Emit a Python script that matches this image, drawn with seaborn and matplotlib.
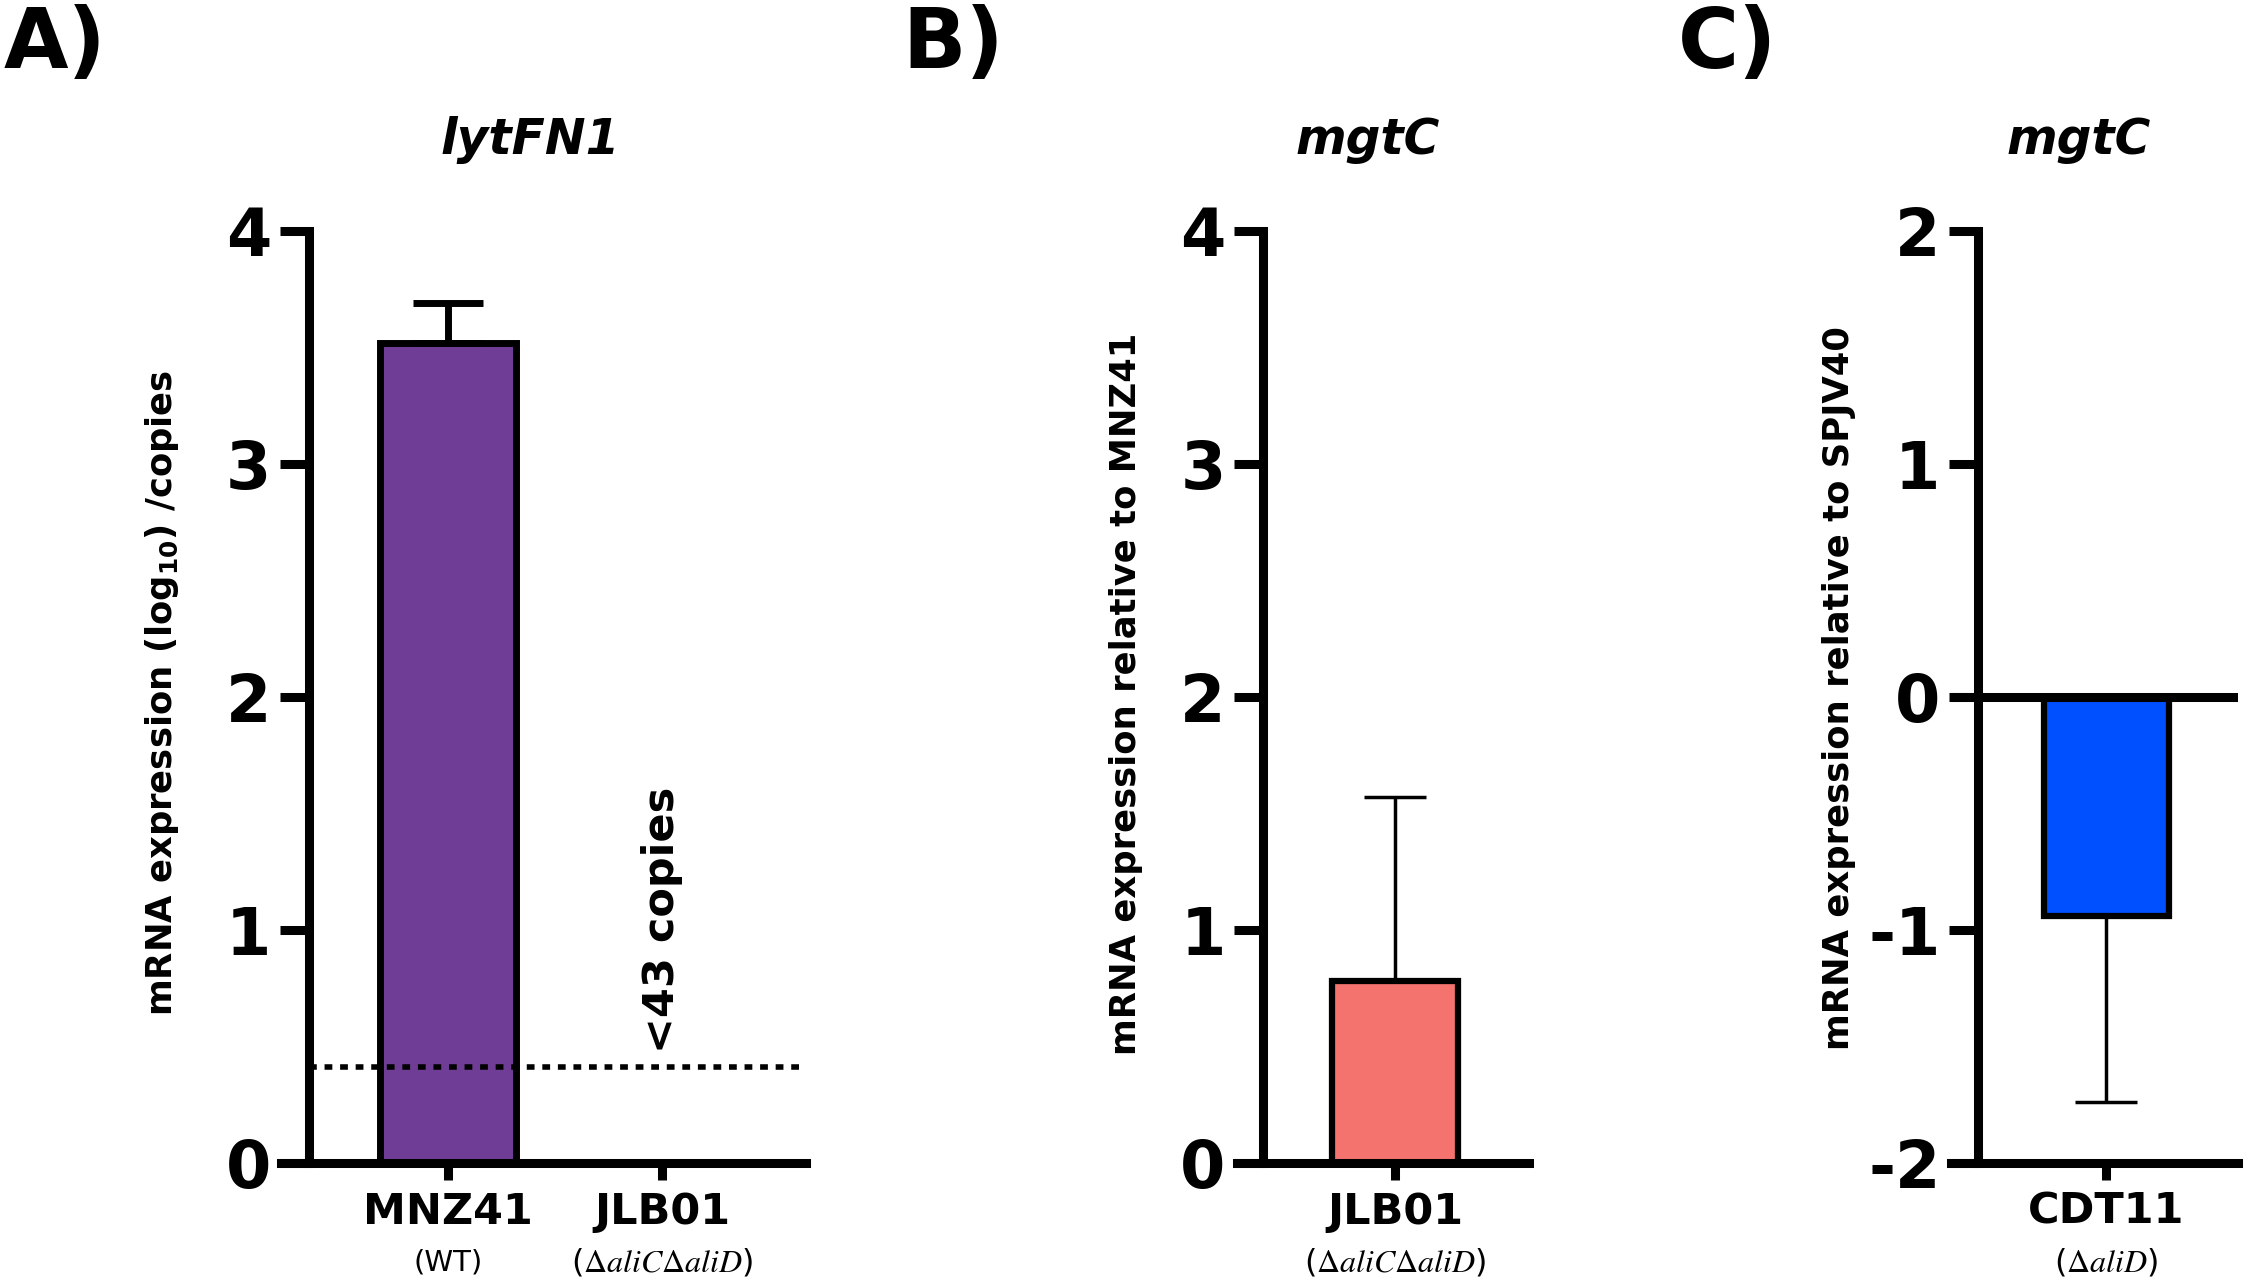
import numpy as np
import matplotlib
matplotlib.use("Agg")
import matplotlib.pyplot as plt
import matplotlib.transforms as mtransforms
import seaborn as sns

# === DATA ===
# Panel A: lytFN1 absolute expression (log10 copies)
a_strains = ["MNZ41", "JLB01"]
a_genotypes = ["(WT)", r"($\Delta aliC\Delta aliD$)"]
a_means = [3.52, np.nan]          # JLB01 below detection
a_errs = [0.17, 0.0]
a_detection = 0.41                # <43 copies
# Panel B: mgtC relative to MNZ41
b_strains = ["JLB01"]
b_genotypes = [r"($\Delta aliC\Delta aliD$)"]
b_means = [0.78]
b_errs = [0.79]
# Panel C: mgtC relative to SPJV40
c_strains = ["CDT11"]
c_genotypes = [r"($\Delta aliD$)"]
c_means = [-0.94]
c_errs = [0.80]

sns.set_style("ticks")
plt.rcParams["font.family"] = ["DejaVu Sans"]
plt.rcParams["font.weight"] = "normal"
for key in ("text.color", "axes.edgecolor", "axes.labelcolor", "xtick.color", "ytick.color"):
    plt.rcParams[key] = "black"

W, H = 2245, 1284
fig = plt.figure(figsize=(W / 100, H / 100), dpi=100)

SPINE = 6.5
TOP, BOT = 231, 1163


def panel(left_px, right_px):
    return fig.add_axes([left_px / W, 1 - BOT / H, (right_px - left_px) / W, (BOT - TOP) / H])


def style(ax, strains, genotypes, xlim, spine_x, ylim, yticks):
    # spine position first: moving a spine resets the tick objects
    sns.despine(ax=ax)
    ax.spines["left"].set_position(("data", spine_x))
    for s in ("left", "bottom"):
        ax.spines[s].set_linewidth(SPINE)
        ax.spines[s].set_capstyle("projecting")
    ax.set_xlim(*xlim)
    ax.set_ylim(*ylim)
    ax.tick_params(axis="y", length=21, width=SPINE, pad=6, labelsize=47)
    ax.tick_params(axis="x", length=12, width=SPINE, pad=8)
    ax.set_yticks(yticks)
    ax.set_yticklabels([str(t) for t in yticks], fontweight="bold", fontsize=47)
    ax.set_xticks(range(len(strains)))
    ax.set_xticklabels(strains, fontsize=31, fontweight="bold")
    ax.set_xlabel("")
    ax.set_ylabel("")
    tr = mtransforms.blended_transform_factory(ax.transData, fig.transFigure)
    for i, g in enumerate(genotypes):
        ax.text(i, 1 - 1263 / H, g, transform=tr, ha="center", va="center",
                fontsize=23 if "$" in g else 21, fontweight="normal",
                math_fontfamily="stix")


# --- Panel A ---
axA = panel(281, 806)
sns.barplot(x=a_strains, y=a_means, order=a_strains, ax=axA, width=0.636,
            color="#6F3D96", saturation=1, edgecolor="black", linewidth=5)
xa = np.arange(len(a_strains))
axA.errorbar(xa[:1], a_means[:1], yerr=[[0], a_errs[:1]], fmt="none",
             ecolor="black", elinewidth=5, capsize=25, capthick=5, zorder=5)
style(axA, a_strains, a_genotypes, (-0.780, 1.673), -0.650, (0, 4), [0, 1, 2, 3, 4])
axA.hlines(a_detection, -0.650, 1.673, colors="black", linewidth=4,
           linestyles=(0, (1.4, 1.4)), zorder=4)
axA.text(xa[1], a_detection + 0.06, "<43 copies", rotation=90, ha="center",
         va="bottom", fontsize=31, fontweight="bold")

# --- Panel B ---
axB = panel(1237, 1529)
sns.barplot(x=b_strains, y=b_means, ax=axB, width=0.7, color="#F4736E",
            saturation=1, edgecolor="black", linewidth=4.5)
axB.errorbar(np.arange(len(b_strains)), b_means, yerr=[[0], b_errs], fmt="none",
             ecolor="black", elinewidth=2.5, capsize=22.5, capthick=2.5, zorder=5)
style(axB, b_strains, b_genotypes, (-0.878, 0.744), -0.733, (0, 4), [0, 1, 2, 3, 4])

# --- Panel C ---
axC = panel(1951, 2238)
sns.barplot(x=c_strains, y=c_means, ax=axC, width=0.7, color="#0050FF",
            saturation=1, edgecolor="black", linewidth=4.5)
axC.errorbar(np.arange(len(c_strains)), c_means, yerr=[c_errs, [0]], fmt="none",
             ecolor="black", elinewidth=2.5, capsize=22.5, capthick=2.5, zorder=5)
style(axC, c_strains, c_genotypes, (-0.868, 0.739), -0.717, (-2, 2), [-2, -1, 0, 1, 2])
axC.axhline(0, color="black", linewidth=SPINE, zorder=3)

# --- titles, y labels, panel letters ---
for x_px, title in [(530, "lytFN1"), (1368, "mgtC"), (2079, "mgtC")]:
    fig.text(x_px / W, 1 - 140 / H, title, ha="center", va="center",
             fontsize=35, fontweight="bold", style="italic")

ylabels = [(162, 693, r"mRNA expression (log$_{\mathbf{10}}$) /copies"),
           (1126, 694, "mRNA expression relative to MNZ41"),
           (1839, 688, "mRNA expression relative to SPJV40")]
for x_px, y_px, lab in ylabels:
    fig.text(x_px / W, 1 - y_px / H, lab, rotation=90, ha="center", va="center",
             fontsize=25.5, fontweight="bold")

for x_px, letter in [(4, "A)"), (902, "B)"), (1678, "C)")]:
    fig.text(x_px / W, 1 - 4 / H, letter, ha="left", va="top",
             fontsize=60, fontweight="bold")

fig.savefig("out.png", dpi=100)
